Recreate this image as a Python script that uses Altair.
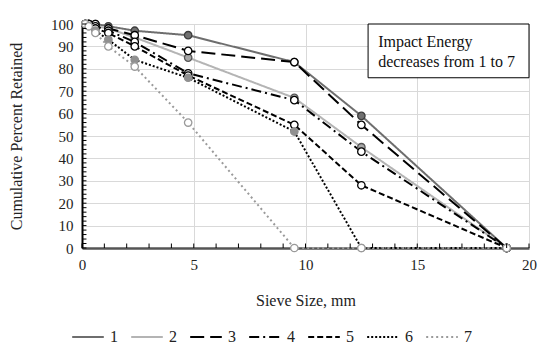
import altair as alt
import pandas as pd

# ---- data ----
sieve = [0.15, 0.3, 0.6, 1.18, 2.36, 4.75, 9.5, 12.5, 19]
series_names = ["1", "2", "3", "4", "5", "6", "7"]
s1 = [100, 100, 100, 99, 97, 95, 83, 59, 0]
s2 = [100, 100, 99, 98, 94, 85, 67, 45, 0]
s3 = [100, 100, 100, 98, 95, 88, 83, 55, 0]
s4 = [100, 100, 99, 97, 92, 78, 66, 43, 0]
s5 = [100, 100, 98, 96, 90, 77, 55, 28, 0]
s6 = [100, 99, 97, 93, 84, 76, 52, 0, 0]
s7 = [100, 99, 96, 90, 81, 56, 0, 0, 0]
all_series = [s1, s2, s3, s4, s5, s6, s7]

x_ticks = [0, 5, 10, 15, 20]
y_ticks = [0, 10, 20, 30, 40, 50, 60, 70, 80, 90, 100]
x_minor = list(range(0, 21))
y_minor = list(range(0, 101, 2))
note_lines = ["Impact Energy", "decreases from 1 to 7"]

rows = []
for name, vals in zip(series_names, all_series):
    for i, (sx, v) in enumerate(zip(sieve, vals)):
        rows.append({"series": name, "size": sx, "pct": v, "order": i})
df = pd.DataFrame(rows)

line_colors = ["#6e6e6e", "#b4b4b4", "#000000", "#000000", "#000000", "#000000", "#9a9a9a"]
dashes = [[1, 0], [1, 0], [14, 6], [10, 4, 2, 4], [6, 3], [2, 2], [2, 3]]
fills = ["#707070", "#a8a8a8", "#ffffff", "#ffffff", "#ffffff", "#909090", "#ffffff"]
strokes = ["#3c3c3c", "#555555", "#000000", "#000000", "#000000", "#909090", "#9a9a9a"]

FONT = "Liberation Serif"
xs = alt.Scale(domain=[0, 20], nice=False)
ys = alt.Scale(domain=[0, 100], nice=False)
XT = "Sieve Size, mm"
YT = "Cumulative Percent Retained"
xaxis = alt.Axis(values=x_ticks, grid=True, ticks=False, labelPadding=9,
                 labelOverlap=False, labelFlush=False, titleY=52, titleBaseline="middle")
yaxis = alt.Axis(values=y_ticks, grid=True, ticks=False, labelPadding=9,
                 labelOverlap=False, labelFlush=False, titleX=-66, titleY=112, titleAngle=-90,
                 titleAlign="center", titleBaseline="middle")


def X(field):
    return alt.X(field, scale=xs, axis=xaxis, title=XT)


def Y(field):
    return alt.Y(field, scale=ys, axis=yaxis, title=YT)


base = alt.Chart(df)

lines = base.mark_line(strokeWidth=2).encode(
    x=X("size:Q"),
    y=Y("pct:Q"),
    color=alt.Color("series:N", scale=alt.Scale(domain=series_names, range=line_colors),
                    title=None,
                    legend=alt.Legend(orient="none", legendX=-11, legendY=296,
                                      direction="horizontal", symbolType="stroke",
                                      symbolSize=1000, symbolStrokeWidth=2,
                                      labelFont=FONT, labelFontSize=16, labelColor="#222222",
                                      labelOffset=5, columnPadding=9)),
    strokeDash=alt.StrokeDash("series:N", scale=alt.Scale(domain=series_names, range=dashes),
                              title=None),
    order="order:Q",
    detail="series:N",
)

points = base.mark_point(filled=False, size=55, strokeWidth=1.3, opacity=1).encode(
    x=X("size:Q"),
    y=Y("pct:Q"),
    fill=alt.Fill("series:N", scale=alt.Scale(domain=series_names, range=fills), legend=None),
    stroke=alt.Stroke("series:N", scale=alt.Scale(domain=series_names, range=strokes), legend=None),
)

ytick_df = pd.DataFrame({"v": y_minor, "a": [0] * len(y_minor), "b": [0.2] * len(y_minor)})
xtick_df = pd.DataFrame({"v": x_minor, "a": [0] * len(x_minor), "b": [2] * len(x_minor)})
yticks = alt.Chart(ytick_df).mark_rule(color="#000000", strokeWidth=1).encode(
    x=X("a:Q"), x2="b:Q", y=Y("v:Q"))
xticks = alt.Chart(xtick_df).mark_rule(color="#000000", strokeWidth=1).encode(
    x=X("v:Q"), y=Y("a:Q"), y2="b:Q")

box_df = pd.DataFrame({"x1": [12.8], "x2": [20], "y1": [100], "y2": [76]})
box = alt.Chart(box_df).mark_rect(fill="white", stroke="#000000", strokeWidth=1).encode(
    x=X("x1:Q"), x2="x2:Q", y=Y("y1:Q"), y2="y2:Q")

note_df = pd.DataFrame({"t": note_lines, "x": [13.25, 13.25], "y": [92, 83]})
note = alt.Chart(note_df).mark_text(font=FONT, fontSize=16, align="left",
                                     baseline="middle", color="#111111").encode(
    x=X("x:Q"), y=Y("y:Q"), text="t:N")

chart = alt.layer(lines, points, yticks, xticks, box, note).properties(
    width=447, height=224,
    autosize=alt.AutoSizeParams(type="none"),
    padding={"left": 74, "top": 16, "right": 9, "bottom": 100},
).configure_view(stroke=None).configure_axis(
    labelFont=FONT, labelFontSize=15, labelColor="#222222",
    titleFont=FONT, titleFontSize=16, titleFontWeight="normal", titleColor="#222222",
    gridColor="#d9d9d9", gridWidth=1,
).configure_axisX(domainColor="#555555", domainWidth=2.5
).configure_axisY(domainColor="#000000", domainWidth=2)

chart.save("out.html", embed_options={"renderer": "svg", "actions": False})
